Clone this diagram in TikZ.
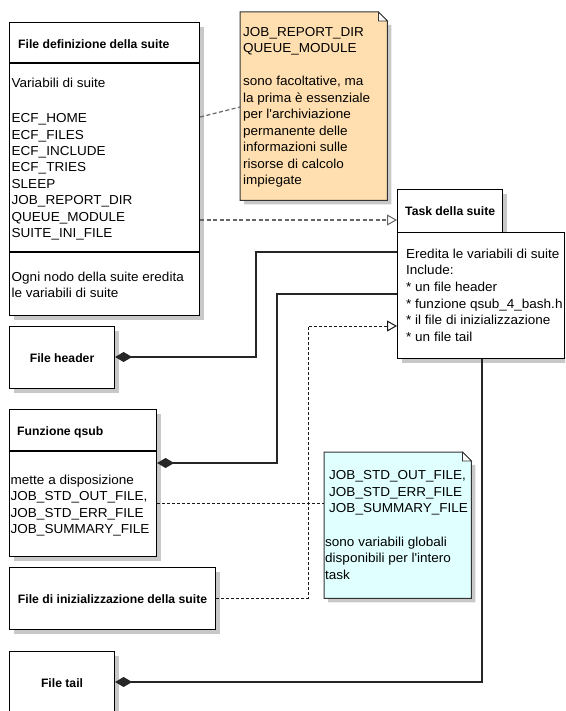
\documentclass[tikz,border=0pt]{standalone}
\usepackage{fontspec}
\setmainfont{Liberation Sans}
\newfontfamily\regfont{Liberation Sans}[FakeStretch=1.04]
\usetikzlibrary{arrows.meta,shadows}
\newcommand\txtA{\regfont\fontsize{13}{16.5}\selectfont}
\newcommand\ttlB{\fontsize{12.2}{15}\selectfont\bfseries}
\newcommand\apo{{\char"27}}
\definecolor{noteorange}{RGB}{255,223,175}
\definecolor{notecyan}{RGB}{224,255,255}
\definecolor{shadowgray}{RGB}{200,200,200}
\begin{document}
\begin{tikzpicture}[x=1pt,y=-1pt,
  box/.style={draw=black, line width=1.1pt, fill=white, anchor=north west, inner sep=0pt,
    general shadow={fill=shadowgray, shadow xshift=4pt, shadow yshift=-4pt}},
  ttl/.style={font=\ttlB, inner sep=0pt, text height=9pt, text depth=0pt},
  txt/.style={font=\txtA, inner sep=0pt, align=left, anchor=north west},
  notebox/.style={anchor=north west, inner sep=0pt},
  notedraw/.style={draw=black!80, line width=1pt},
  comp/.style={draw=black!85, line width=1.1pt, -{Diamond[length=17pt,width=10pt]}},
  depA/.style={draw=black!60, line width=1.2pt, dash pattern=on 4pt off 2.5pt,
    -{Triangle[length=10pt,width=11pt,fill=white,line width=1pt]}},
  depB/.style={draw=black!90, line width=0.9pt, dash pattern=on 3pt off 2pt,
    -{Triangle[length=10pt,width=11pt,fill=white,line width=1pt]}},
  linkA/.style={draw=black!60, line width=1.2pt, dash pattern=on 4pt off 2.5pt},
  linkB/.style={draw=black!90, line width=0.9pt, dash pattern=on 3pt off 2pt},
]
\useasboundingbox (0,0) rectangle (565,711);
\clip (0,0) rectangle (565,711);

% ---------- File definizione della suite ----------
\node[box, minimum width=190pt, minimum height=293pt] (def) at (9,22) {};
\draw[line width=1.1pt] (def.west |- 0,63) -- (def.east |- 0,63);
\draw[line width=1.1pt] (def.west |- 0,252) -- (def.east |- 0,252);
\node[ttl, anchor=west] (defT) at (18,44) {File definizione della suite};
\node[txt] (defV) at (11.5,77.5) {Variabili di suite};
\node[txt, font={\regfont\fontsize{13}{16.4}\selectfont}] (defL) at (11.5,113.5) {ECF\_HOME\\ECF\_FILES\\ECF\_INCLUDE\\ECF\_TRIES\\SLEEP\\JOB\_REPORT\_DIR\\QUEUE\_MODULE\\SUITE\_INI\_FILE};
\node[txt] (defO) at (11.5,271.5) {Ogni nodo della suite eredita\\le variabili di suite};

% ---------- Orange note ----------
\node[notebox, minimum width=147pt, minimum height=188pt] (note1) at (240,12) {};
\fill[shadowgray] ([shift={(13pt,-4pt)}]note1.north west) -- ([shift={(4pt,-13pt)}]note1.north east)
  -- ([shift={(4pt,-4pt)}]note1.south east) -- ([shift={(4pt,-4pt)}]note1.south west) -- cycle;
\draw[notedraw, fill=noteorange] (note1.north west) -- ([xshift=-9pt]note1.north east)
  -- ([yshift=-9pt]note1.north east) -- (note1.south east) -- (note1.south west) -- cycle;
\draw[notedraw, fill=white, line width=0.8pt] ([xshift=-9pt]note1.north east) -- ([shift={(-9pt,-9pt)}]note1.north east) -- ([yshift=-9pt]note1.north east) -- cycle;
\node[txt] (note1T) at (243,27) {JOB\_REPORT\_DIR\\QUEUE\_MODULE\\[16.5pt]sono facoltative, ma\\la prima è essenziale\\per l\apo archiviazione\\permanente delle\\informazioni sulle\\risorse di calcolo\\impiegate};

% ---------- Task della suite ----------
\node[box, minimum width=105pt, minimum height=43pt] (taskh) at (397,189) {};
\node[box, minimum width=167pt, minimum height=126pt] (taskb) at (397,232) {};
\node[ttl, anchor=west] (taskT) at (405,211) {Task della suite};
\node[txt, font={\regfont\fontsize{13}{16.7}\selectfont}] (taskL) at (406,248.5) {Eredita le variabili di suite\\Include:\\* un file header\\* funzione qsub\_4\_bash.h\\* il file di inizializzazione\\* un file tail};

% ---------- File header ----------
\node[box, minimum width=105pt, minimum height=62pt] (fhdr) at (9,326) {};
\node[ttl] (fhdrT) at (fhdr.center) {File header};

% ---------- Funzione qsub ----------
\node[box, minimum width=147pt, minimum height=147pt] (fq) at (9,409) {};
\draw[line width=1.1pt] (fq.west |- 0,451) -- (fq.east |- 0,451);
\node[ttl, anchor=west] (fqT) at (17,431) {Funzione qsub};
\node[txt] (fqL) at (10.5,474.5) {mette a disposizione\\JOB\_STD\_OUT\_FILE,\\JOB\_STD\_ERR\_FILE\\JOB\_SUMMARY\_FILE};

% ---------- Cyan note ----------
\node[notebox, minimum width=147pt, minimum height=146pt] (note2) at (324,452) {};
\fill[shadowgray] ([shift={(13pt,-4pt)}]note2.north west) -- ([shift={(4pt,-13pt)}]note2.north east)
  -- ([shift={(4pt,-4pt)}]note2.south east) -- ([shift={(4pt,-4pt)}]note2.south west) -- cycle;
\draw[notedraw, fill=notecyan] (note2.north west) -- ([xshift=-9pt]note2.north east)
  -- ([yshift=-9pt]note2.north east) -- (note2.south east) -- (note2.south west) -- cycle;
\draw[notedraw, fill=white, line width=0.8pt] ([xshift=-9pt]note2.north east) -- ([shift={(-9pt,-9pt)}]note2.north east) -- ([yshift=-9pt]note2.north east) -- cycle;
\node[txt] (note2A) at (329,470.5) {JOB\_STD\_OUT\_FILE,\\JOB\_STD\_ERR\_FILE\\JOB\_SUMMARY\_FILE};
\node[txt] (note2B) at (325,536.5) {sono variabili globali\\disponibili per l\apo intero\\task};

% ---------- File di inizializzazione ----------
\node[box, minimum width=206pt, minimum height=62pt] (finit) at (9,567) {};
\node[ttl] (finitT) at (finit.center) {File di inizializzazione della suite};

% ---------- File tail ----------
\node[box, minimum width=105pt, minimum height=62pt] (ftail) at (9,651) {};
\node[ttl] (ftailT) at (ftail.center) {File tail};

% ---------- Connectors ----------
\coordinate (bA) at (256,357);
\coordinate (bB) at (277,463);
\coordinate (bC) at (308,598);
\coordinate (bD) at (482,682);

\draw[linkA] (def.east |- 0,117) -- (note1.west |- 0,107);
\draw[depA] (def.east |- 0,220) -- (taskh.west |- 0,220);
\draw[comp] (taskb.west |- 0,252) -| (bA) -- (fhdr.east |- bA);
\draw[comp] (taskb.west |- 0,294) -| (bB) -- (fq.east |- bB);
\draw[depB] (finit.east |- bC) -- (bC) |- (taskb.west |- 0,326);
\draw[linkB] (fq.east |- 0,503) -- (note2.west |- 0,503);
\draw[comp] (taskb.south -| bD) -- (bD) -- (ftail.east |- bD);
\end{tikzpicture}
\end{document}
